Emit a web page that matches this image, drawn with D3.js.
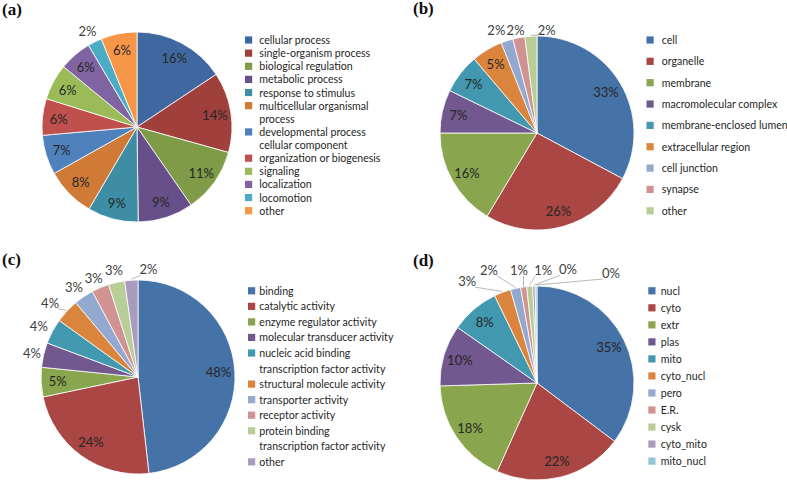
<!DOCTYPE html>
<html><head><meta charset="utf-8">
<script src="https://cdn.jsdelivr.net/npm/d3@7"></script>
<style>html,body{margin:0;padding:0;background:#fff;} svg{display:block;}</style>
</head><body>
<svg id="chart" width="787" height="488"></svg>
<script>
// ---------------- data ----------------
const catsA = ["cellular process","single-organism process","biological regulation","metabolic process","response to stimulus","multicellular organismal\nprocess","developmental process","cellular component\norganization or biogenesis","signaling","localization","locomotion","other"];
const valsA = [15.6,13.6,11.0,9.4,8.6,8.4,6.7,6.2,6.1,5.5,2.4,6.1];
const pctA  = ["16%","14%","11%","9%","9%","8%","7%","6%","6%","6%","2%","6%"];

const catsB = ["cell","organelle","membrane","macromolecular complex","membrane-enclosed lumen","extracellular region","cell junction","synapse","other"];
const valsB = [32.8,25.8,16.4,7.2,6.6,5.2,2.0,2.0,2.0];
const pctB  = ["33%","26%","16%","7%","7%","5%","2%","2%","2%"];

const catsC = ["binding","catalytic activity","enzyme regulator activity","molecular transducer activity","nucleic acid binding\ntranscription factor activity","structural molecule activity","transporter activity","receptor activity","protein binding\ntranscription factor activity","other"];
const valsC = [48.2,23.5,4.9,4.1,4.2,4.0,3.3,2.9,2.7,2.2];
const pctC  = ["48%","24%","5%","4%","4%","4%","3%","3%","3%","2%"];

const catsD = ["nucl","cyto","extr","plas","mito","cyto_nucl","pero","E.R.","cysk","cyto_mito","mito_nucl"];
const valsD = [35.3,21.5,17.8,10.2,8.1,2.8,1.7,1.0,1.0,0.4,0.3];
const pctD  = ["35%","22%","18%","10%","8%","3%","2%","1%","1%","0%","0%"];

const colorsA = ["#3F68A0","#A0403D","#7F9B48","#675089","#3D8DA4","#CF7A37","#4F81BD","#C0504D","#9BBB59","#8064A2","#4BACC6","#F79646"];
const colorsStd = ["#4572A7","#AA4643","#89A54E","#71588F","#4198AF","#DB843D","#93A9CF","#D19392","#B9CD96","#A99BBD","#92C5D6"];

// ---------------- layout ----------------
const panels = [
  {title:"(a)", tx:2, ty:15, cx:137, cy:127, r:95, cats:catsA, vals:valsA, pcts:pctA, colors:colorsA,
   outside:{10:[-2,0,false]},
   legend:{sx:245, tx:259.3, y0:40, step:13.13, font:10.6, markerLine:{7:1}}},
  {title:"(b)", tx:413, ty:14, cx:537, cy:133, r:97, cats:catsB, vals:valsB, pcts:pctB, colors:colorsStd,
   outside:{6:[-7,1,false],7:[-1,4,false],8:[16.5,6,true]},
   legend:{sx:646.5, tx:661.7, y0:40, step:21.35, font:10.6, markerLine:{}}},
  {title:"(c)", tx:2, ty:265, cx:138, cy:377, r:97, cats:catsC, vals:valsC, pcts:pctC, colors:colorsStd,
   outside:{3:[0,1,false],4:[-3,0,false],5:[-8,0,true],6:[-3,0,false],7:[-2,1,false],8:[0,-1,false],9:[18,1,true]},
   legend:{sx:248, tx:259.3, y0:290.8, step:15.55, font:10.6, markerLine:{}}},
  {title:"(d)", tx:413, ty:266, cx:537, cy:383, r:97, cats:catsD, vals:valsD, pcts:pctD, colors:colorsStd,
   outside:{5:[-31,0,true],6:[-24,-7,true],7:[-3,-5,true],8:[14.5,-4.6,true],9:[34.4,-4.6,true],10:[75,-1,true]},
   legend:{sx:648.3, tx:660.7, y0:290.8, step:17.03, font:10.6, markerLine:{}}}
];

const svg = d3.select("#chart");
svg.append("rect").attr("width",787).attr("height",488).attr("fill","#fff");

const pieGen = d3.pie().sort(null).value(d => d);

panels.forEach(p => {
  const g = svg.append("g");
  g.append("text").attr("x", p.tx).attr("y", p.ty)
    .attr("font-family","'Liberation Serif','Times New Roman',serif")
    .attr("font-weight","bold").attr("font-size",17).attr("fill","#111").text(p.title);

  const arcs = pieGen(p.vals);
  const arc = d3.arc().innerRadius(0).outerRadius(p.r);
  const pg = g.append("g").attr("transform", `translate(${p.cx},${p.cy})`);
  pg.selectAll("path.slice").data(arcs).join("path").attr("class","slice")
    .attr("d", arc).attr("fill", (d,i) => p.colors[i])
    .attr("stroke","#fff").attr("stroke-width",0.8).attr("stroke-linejoin","round");

  const inArc = d3.arc().innerRadius(p.r*0.83).outerRadius(p.r*0.83);
  const outArc = d3.arc().innerRadius(p.r+12).outerRadius(p.r+12);
  const edgeArc = d3.arc().innerRadius(p.r+1).outerRadius(p.r+1);

  arcs.forEach((d,i) => {
    const o = p.outside[i];
    let x, y;
    if (o) { [x,y] = outArc.centroid(d); x += o[0]; y += o[1]; }
    else { [x,y] = inArc.centroid(d); }
    const t = pg.append("text").attr("x", x).attr("y", y)
      .attr("text-anchor","middle").attr("dominant-baseline","central")
      .attr("font-family","Lato, 'Open Sans', sans-serif").attr("font-size",13)
      .attr("fill", o ? "#404040" : "#262626").text(p.pcts[i]);
    if (o && o[2]) {
      const bb = t.node().getBBox();
      const [ex, ey] = edgeArc.centroid(d);
      const nx = Math.max(bb.x+1, Math.min(bb.x+bb.width-1, ex));
      const ny = Math.max(bb.y+2, Math.min(bb.y+bb.height-2, ey));
      pg.insert("line","text").attr("x1",ex).attr("y1",ey).attr("x2",nx).attr("y2",ny)
        .attr("stroke","#a6a6a6").attr("stroke-width",0.8);
    }
  });

  // legend
  const L = p.legend;
  let line = 0;
  const lg = g.append("g");
  p.cats.forEach((c,i) => {
    const parts = c.split("\n");
    const ml = L.markerLine[i] || 0;
    const my = L.y0 + (line + ml) * L.step;
    lg.append("rect").attr("x", L.sx).attr("y", my-3.6).attr("width",7.2).attr("height",7.2)
      .attr("fill", p.colors[i]);
    parts.forEach((s,k) => {
      lg.append("text").attr("x", L.tx).attr("y", L.y0 + (line+k)*L.step)
        .attr("dominant-baseline","central")
        .attr("font-family","Lato, 'Open Sans', sans-serif").attr("font-size",L.font)
        .attr("fill","#262626").text(s);
    });
    line += parts.length;
  });
});
</script>
</body></html>
